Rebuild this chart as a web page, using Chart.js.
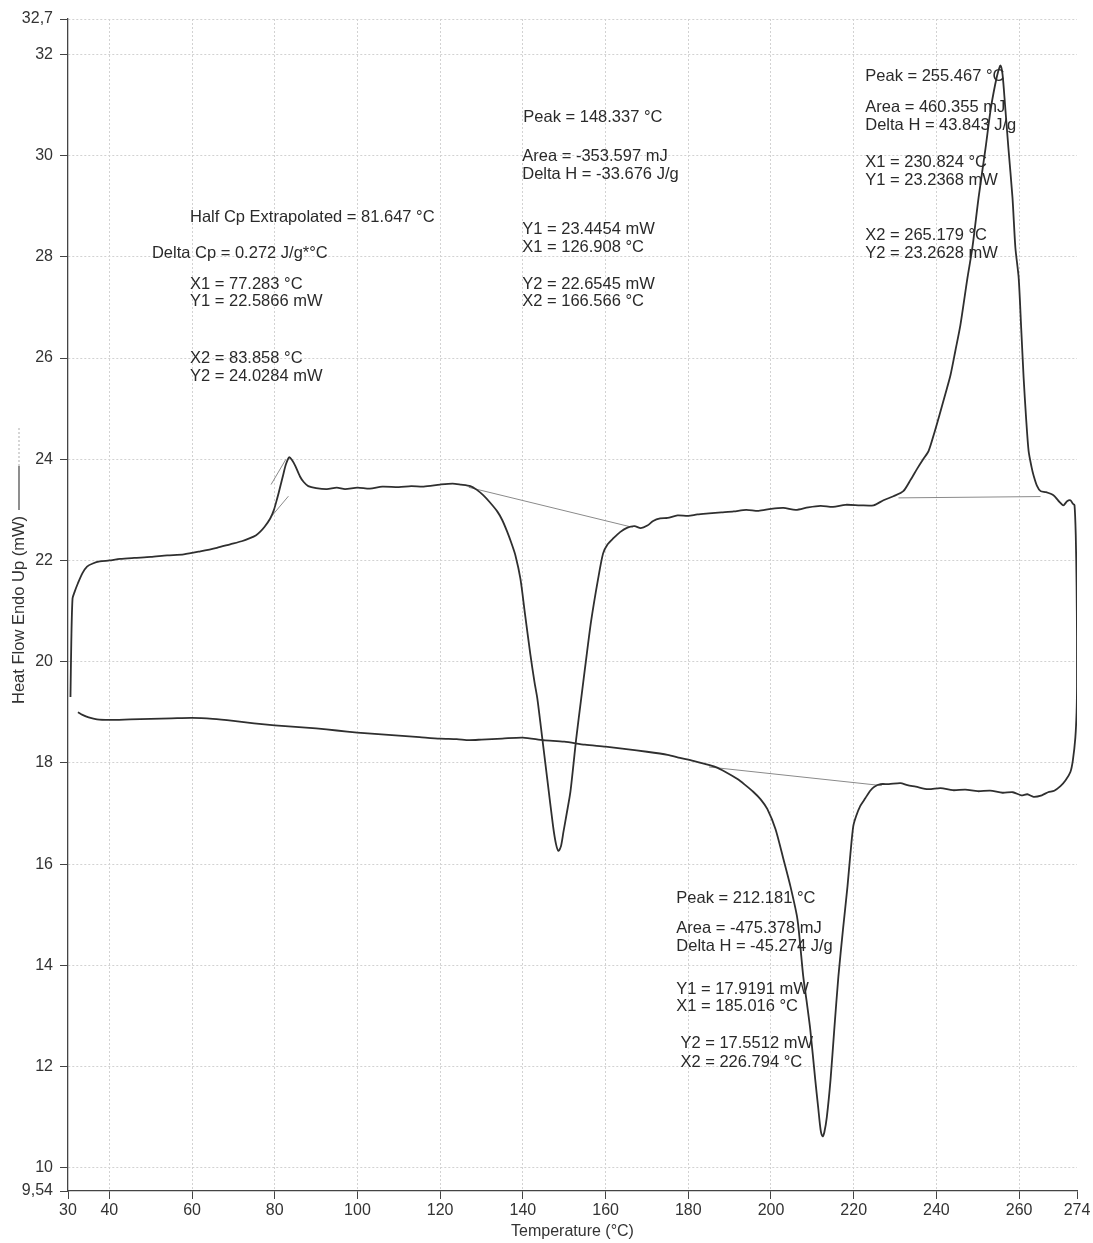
<!DOCTYPE html>
<html>
<head>
<meta charset="utf-8">
<script src="https://cdn.jsdelivr.net/npm/chart.js@4/dist/chart.umd.min.js"></script>
<style>
  body { margin: 0; background: #fff; }
  canvas { display: block; }
</style>
</head>
<body>
<canvas id="dscChart" width="1093" height="1243"></canvas>
<script>
// DSC run: heating then cooling, one continuous trace (temperature in °C, heat flow in mW)
var heatTemp = [30.6, 30.8, 31.1, 31.6, 32.4, 33.5, 34.6, 36, 37.7, 40, 42.6, 46, 50, 54, 58, 62, 66, 69.2, 72, 74,
  75.5, 76.5, 77.5, 78.9, 79.8, 80.6, 81.3, 82.0, 82.7, 83.5, 84.2, 84.9, 86.1, 87, 88.1, 90, 92.6, 95, 97, 100,
  103, 106, 110, 113, 116, 120, 123, 125, 127.3, 128.8, 130.4, 132, 133.8, 135, 136.2, 137.2, 138.2, 139.4, 140.5, 141.8,
  142.8, 143.5, 144.7, 145.9, 147.3, 148.0, 148.6, 149.2, 149.8, 150.6, 151.5, 152.9, 154.1, 155.3, 156.5, 158.2, 159.4, 160.5, 161.9, 163.5,
  165.3, 167, 168.5, 170.1, 171.5, 173.2, 175, 177.4, 180, 182.2, 185, 188, 191, 194, 197, 200, 203, 206, 209, 212,
  215, 218, 221.6, 224.8, 227.2, 229.6, 232.0, 233.8, 235.4, 236.8, 238.1, 239.6, 241.0, 242.2, 243.4, 244.6, 245.8, 247.5, 248.7, 250.2,
  251.9, 253.1, 254.2, 255.0, 255.5, 256.0, 256.6, 257.4, 258.4, 259.1, 259.9, 260.5, 261.1, 261.7, 262.3, 263.0, 263.5, 264.3, 265.2, 266.5,
  268.3, 269.5, 270.7, 271.6, 272.4, 273.0, 273.4];
var heatFlow = [19.3, 20.4, 21.25, 21.38, 21.55, 21.75, 21.88, 21.94, 21.98, 22.0, 22.03, 22.05, 22.07, 22.1, 22.12, 22.18, 22.25, 22.32, 22.38, 22.44,
  22.5, 22.57, 22.66, 22.83, 23.0, 23.23, 23.45, 23.68, 23.9, 24.04, 23.98, 23.88, 23.66, 23.55, 23.47, 23.43, 23.41, 23.44, 23.41, 23.44,
  23.42, 23.46, 23.45, 23.47, 23.46, 23.5, 23.52, 23.5, 23.47, 23.4, 23.29, 23.15, 22.97, 22.8, 22.57, 22.35, 22.1, 21.64, 20.95, 20.15,
  19.6, 19.27, 18.48, 17.68, 16.75, 16.4, 16.26, 16.35, 16.63, 17.0, 17.43, 18.48, 19.27, 20.05, 20.8, 21.64, 22.14, 22.32, 22.44, 22.56,
  22.65, 22.68, 22.64, 22.69, 22.78, 22.83, 22.84, 22.89, 22.88, 22.91, 22.93, 22.95, 22.97, 23.0, 22.98, 23.02, 23.04, 23.0, 23.05, 23.08,
  23.06, 23.1, 23.09, 23.09, 23.19, 23.27, 23.37, 23.6, 23.82, 24.0, 24.16, 24.55, 24.95, 25.3, 25.66, 26.15, 26.65, 27.58, 28.18, 29.17,
  30.16, 30.9, 31.4, 31.68, 31.78, 31.6, 31.0, 30.16, 29.17, 28.18, 27.58, 26.6, 25.6, 24.8, 24.16, 23.85, 23.68, 23.48, 23.37, 23.35,
  23.29, 23.18, 23.09, 23.17, 23.19, 23.12, 23.09];

var coolTemp = [273.7, 273.9, 274.0, 274.0, 273.9, 273.6, 273.0, 272.4, 271.2, 270.0, 268.5, 267, 265.5, 263.5, 262, 260.5, 258.5, 256, 253, 250,
  247, 244, 241, 238, 235, 233, 231.3, 228.5, 226.5, 225, 224.0, 222.8, 221.6, 220.6, 219.9, 219.2, 218.5, 217.4, 216.3, 215.3,
  214.4, 213.5, 212.9, 212.5, 212.0, 211.4, 210.7, 209.5, 208.6, 207.8, 206.4, 204.7, 203.0, 201.1, 199.1, 197.5, 195.7, 193.8, 191.9, 189,
  186.5, 184, 181.2, 178, 175, 170, 165, 160, 155, 150, 145, 140, 135, 130, 127, 124, 120, 115, 110, 105,
  100, 95, 90, 85, 80, 75, 70, 65, 60, 55, 50, 45, 40, 37, 35, 33.5, 32.4];
var coolFlow = [22.5, 21.5, 20.5, 19.5, 19.0, 18.5, 18.05, 17.82, 17.65, 17.54, 17.45, 17.42, 17.36, 17.33, 17.38, 17.36, 17.42, 17.41, 17.45, 17.44,
  17.47, 17.46, 17.5, 17.48, 17.53, 17.56, 17.6, 17.58, 17.58, 17.53, 17.45, 17.3, 17.15, 16.95, 16.75, 16.2, 15.56, 14.7, 13.78, 12.73,
  11.74, 11.0, 10.7, 10.62, 10.75, 11.2, 11.74, 12.73, 13.3, 13.78, 14.91, 15.56, 16.1, 16.69, 17.09, 17.28, 17.43, 17.56, 17.68, 17.82,
  17.92, 17.98, 18.04, 18.1, 18.16, 18.22, 18.27, 18.32, 18.36, 18.42, 18.45, 18.5, 18.48, 18.46, 18.45, 18.47, 18.48, 18.51, 18.54, 18.57,
  18.6, 18.64, 18.68, 18.71, 18.74, 18.78, 18.83, 18.87, 18.89, 18.88, 18.87, 18.86, 18.85, 18.86, 18.9, 18.95, 19.0];

// thin construction lines drawn by the analysis software
var tgTangentHigh = [[79.1, 23.5], [82.7, 24.0]];
var tgTangentLow = [[79.4, 22.89], [83.3, 23.27]];
var peak1Base = [[126.908, 23.4454], [166.566, 22.6545]];
var peak2Base = [[185.016, 17.9191], [226.794, 17.5512]];
var peak3Base = [[230.824, 23.2368], [265.179, 23.2628]];

var xTicks = [30, 40, 60, 80, 100, 120, 140, 160, 180, 200, 220, 240, 260, 274];
var yTicks = [9.54, 10, 12, 14, 16, 18, 20, 22, 24, 26, 28, 30, 32, 32.7];

// annotation text, anchored at [temperature, heat flow]
var notes = [
  ["Half Cp Extrapolated = 81.647 °C", 59.5, 28.78],
  ["Delta Cp = 0.272 J/g*°C", 50.3, 28.07],
  ["X1 = 77.283 °C", 59.5, 27.46],
  ["Y1 = 22.5866 mW", 59.5, 27.12],
  ["X2 = 83.858 °C", 59.5, 25.99],
  ["Y2 = 24.0284 mW", 59.5, 25.63],

  ["Peak = 148.337 °C", 140.1, 30.76],
  ["Area = -353.597 mJ", 139.85, 29.99],
  ["Delta H = -33.676 J/g", 139.85, 29.63],
  ["Y1 = 23.4454 mW", 139.85, 28.54],
  ["X1 = 126.908 °C", 139.85, 28.19],
  ["Y2 = 22.6545 mW", 139.85, 27.46],
  ["X2 = 166.566 °C", 139.85, 27.12],

  ["Peak = 255.467 °C", 222.8, 31.57],
  ["Area = 460.355 mJ", 222.8, 30.96],
  ["Delta H = 43.843 J/g", 222.8, 30.6],
  ["X1 = 230.824 °C", 222.8, 29.87],
  ["Y1 = 23.2368 mW", 222.8, 29.51],
  ["X2 = 265.179 °C", 222.8, 28.43],
  ["Y2 = 23.2628 mW", 222.8, 28.07],

  ["Peak = 212.181 °C", 177.1, 15.32],
  ["Area = -475.378 mJ", 177.1, 14.72],
  ["Delta H = -45.274 J/g", 177.1, 14.37],
  ["Y1 = 17.9191 mW", 177.1, 13.53],
  ["X1 = 185.016 °C", 177.1, 13.18],
  ["Y2 = 17.5512 mW", 178.1, 12.45],
  ["X2 = 226.794 °C", 178.1, 12.09]
];

var FONT = '"Liberation Sans", Arial, sans-serif';

var trace = heatTemp.map(function (t, i) { return { x: t, y: heatFlow[i] }; })
  .concat(coolTemp.map(function (t, i) { return { x: t, y: coolFlow[i] }; }));

function seg(pts) {
  return {
    data: pts.map(function (p) { return { x: p[0], y: p[1] }; }),
    showLine: true, borderColor: '#8a8a8a', borderWidth: 1, pointRadius: 0, tension: 0
  };
}

var textPlugin = {
  id: 'dscText',
  afterDatasetsDraw: function (chart) {
    var c = chart.ctx, xs = chart.scales.x, ys = chart.scales.y;
    c.save();
    c.fillStyle = '#2a2a2a';
    c.font = '16.5px ' + FONT;
    c.textBaseline = 'middle';
    c.textAlign = 'left';
    notes.forEach(function (n) {
      c.fillText(n[0], xs.getPixelForValue(n[1]), ys.getPixelForValue(n[2]));
    });
    c.restore();

    // y axis title with the trace key line
    var area = chart.chartArea;
    var cy = (area.top + area.bottom) / 2 + 5;
    c.save();
    c.translate(19, cy);
    c.rotate(-Math.PI / 2);
    c.font = '16.5px ' + FONT;
    c.fillStyle = '#333';
    c.textAlign = 'center';
    c.textBaseline = 'middle';
    c.fillText('Heat Flow Endo Up (mW)', 0, 0);
    var w = c.measureText('Heat Flow Endo Up (mW)').width;
    c.strokeStyle = '#444';
    c.lineWidth = 1.2;
    c.beginPath();
    c.moveTo(w / 2 + 6, 0);
    c.lineTo(w / 2 + 50, 0);
    c.stroke();
    c.strokeStyle = '#bbb';
    c.setLineDash([2, 2]);
    c.beginPath();
    c.moveTo(w / 2 + 50, 0);
    c.lineTo(w / 2 + 90, 0);
    c.stroke();
    c.restore();
  }
};

var ctx = document.getElementById('dscChart').getContext('2d');
var myChart = new Chart(ctx, {
  type: 'scatter',
  data: {
    datasets: [
      { data: trace, showLine: true, borderColor: '#2f2f2f', borderWidth: 1.8, pointRadius: 0, tension: 0.25 },
      seg(tgTangentHigh),
      seg(tgTangentLow),
      seg(peak1Base),
      seg(peak2Base),
      seg(peak3Base)
    ]
  },
  options: {
    responsive: false,
    animation: false,
    events: [],
    layout: { padding: { top: 19, right: 16, left: 0, bottom: 0 } },
    plugins: { legend: { display: false }, tooltip: { enabled: false } },
    scales: {
      x: {
        type: 'linear', min: 30, max: 274,
        afterBuildTicks: function (axis) { axis.ticks = xTicks.map(function (v) { return { value: v }; }); },
        afterFit: function (axis) { axis.height = 52; },
        ticks: {
          autoSkip: false, maxRotation: 0, padding: 2, color: '#333',
          font: { family: FONT, size: 16 },
          callback: function (v) { return String(v); }
        },
        grid: {
          color: function (c) { var v = c.tick ? c.tick.value : 0; return (v === 30 || v === 274) ? 'rgba(0,0,0,0)' : '#d2d2d2'; },
          tickColor: '#444', tickLength: 8, lineWidth: 1
        },
        border: { color: '#444', width: 1.3, dash: [2, 2] },
        title: { display: true, text: 'Temperature (°C)', color: '#333', font: { family: FONT, size: 16 }, padding: { top: 0, bottom: 2 } }
      },
      y: {
        type: 'linear', min: 9.54, max: 32.7,
        afterBuildTicks: function (axis) { axis.ticks = yTicks.map(function (v) { return { value: v }; }); },
        afterFit: function (axis) { axis.width = 68; },
        ticks: {
          autoSkip: false, padding: 7, color: '#333',
          font: { family: FONT, size: 16 },
          callback: function (v) { return String(v).replace('.', ','); }
        },
        grid: {
          color: function (c) { var v = c.tick ? c.tick.value : 0; return v === 9.54 ? 'rgba(0,0,0,0)' : '#d2d2d2'; },
          tickColor: '#444', tickLength: 8, lineWidth: 1
        },
        border: { color: '#444', width: 1.3, dash: [2, 2] }
      }
    }
  },
  plugins: [textPlugin]
});
</script>
</body>
</html>
